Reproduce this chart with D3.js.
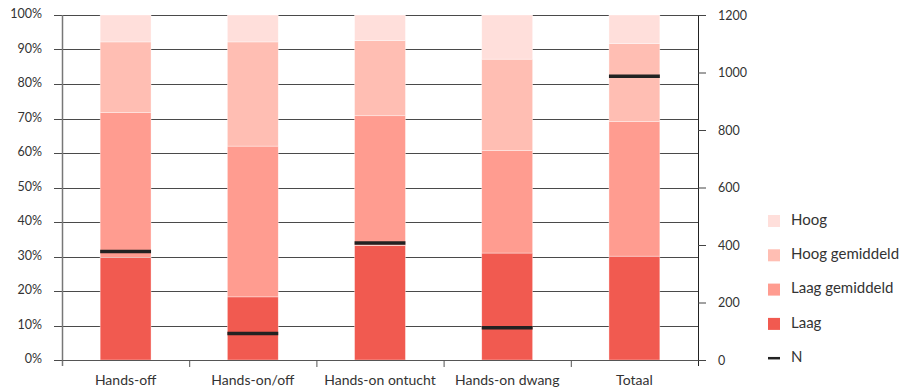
<!DOCTYPE html>
<html>
<head>
<meta charset="utf-8">
<script src="https://cdn.jsdelivr.net/npm/d3@7"></script>
<style>
  body { margin: 0; background: #fff; }
  text { font-family: "Lato", "Noto Sans", sans-serif; fill: #333; }
</style>
</head>
<body>
<div id="chart"></div>
<script>
// Data
const categories = ["Hands-off", "Hands-on/off", "Hands-on ontucht", "Hands-on dwang", "Totaal"];
const seriesNames = ["Laag", "Laag gemiddeld", "Hoog gemiddeld", "Hoog"];
// share per category (%), bottom to top
const laag         = [29.7, 18.3, 33.2, 31.0, 30.1];
const laagGem      = [42.0, 43.7, 37.6, 29.7, 39.0];
const hoogGem      = [20.5, 30.2, 21.8, 26.5, 22.6];
const hoog         = [7.8, 7.8, 7.4, 12.8, 8.3];
const nValues      = [377, 92, 407, 112, 987];
const leftTicks    = [0, 10, 20, 30, 40, 50, 60, 70, 80, 90, 100];
const rightTicks   = [0, 200, 400, 600, 800, 1000, 1200];

const colors = ["#f15a50", "#ff9c90", "#ffbeb3", "#ffdfdb"];

// layout
const W = 904, H = 391;
const plot = { left: 62, right: 698, top: 15, bottom: 360 };

const svg = d3.select("#chart").append("svg")
  .attr("width", W)
  .attr("height", H);

const x = d3.scaleBand()
  .domain(categories)
  .range([plot.left, plot.right])
  .paddingInner(0.6)
  .paddingOuter(0.3);

const y = d3.scaleLinear().domain([0, 100]).range([plot.bottom, plot.top]);
const yN = d3.scaleLinear().domain([0, 1200]).range([plot.bottom, plot.top]);

// gridlines
svg.append("g")
  .selectAll("line")
  .data(leftTicks)
  .enter().append("line")
  .attr("x1", plot.left - 8)
  .attr("x2", plot.right)
  .attr("y1", d => Math.round(y(d)) + 0.5)
  .attr("y2", d => Math.round(y(d)) + 0.5)
  .attr("stroke", "#4a4a4a")
  .attr("stroke-width", 1);

// left labels
svg.append("g")
  .selectAll("text")
  .data(leftTicks)
  .enter().append("text")
  .attr("x", 42)
  .attr("y", d => y(d))
  .attr("text-anchor", "end")
  .attr("dominant-baseline", "middle")
  .attr("font-size", 12.5)
  .text(d => d + "%");

// stacked bars
const rows = categories.map((c, i) => ({ cat: c, vals: [laag[i], laagGem[i], hoogGem[i], hoog[i]] }));
const stackData = rows.map(r => {
  let acc = 0;
  return r.vals.map((v, k) => {
    const seg = { cat: r.cat, k: k, y0: acc, y1: Math.min(100, acc + v) };
    acc += v;
    return seg;
  });
}).flat();

svg.append("g")
  .selectAll("rect")
  .data(stackData)
  .enter().append("rect")
  .attr("x", d => x(d.cat))
  .attr("width", x.bandwidth())
  .attr("y", d => y(d.y1))
  .attr("height", d => y(d.y0) - y(d.y1))
  .attr("fill", d => colors[d.k])
  .attr("stroke", "#fff")
  .attr("stroke-opacity", 0.6)
  .attr("stroke-width", 0.6);

// N markers
svg.append("g")
  .selectAll("line")
  .data(categories)
  .enter().append("line")
  .attr("x1", d => x(d))
  .attr("x2", d => x(d) + x.bandwidth())
  .attr("y1", (d, i) => yN(nValues[i]))
  .attr("y2", (d, i) => yN(nValues[i]))
  .attr("stroke", "#222")
  .attr("stroke-width", 3.5);

// left axis line
svg.append("line")
  .attr("x1", plot.left + 0.5).attr("x2", plot.left + 0.5)
  .attr("y1", plot.top).attr("y2", plot.bottom + 6)
  .attr("stroke", "#777").attr("stroke-width", 1.5);

// bottom axis with ticks at band boundaries
const xAxis = d3.axisBottom(x).tickSize(0).tickPadding(15);
const gx = svg.append("g")
  .attr("transform", `translate(0,${plot.bottom})`)
  .call(xAxis);
gx.select(".domain").attr("stroke", "#555");
gx.selectAll("text")
  .attr("font-size", 14)
  .attr("font-family", "Lato, 'Noto Sans', sans-serif")
  .attr("fill", "#333");

const bounds = d3.range(categories.length + 1).map(i => plot.left + i * (plot.right - plot.left) / categories.length);
svg.append("g")
  .selectAll("line")
  .data(bounds.slice(1, -1))
  .enter().append("line")
  .attr("x1", d => d + 0.5).attr("x2", d => d + 0.5)
  .attr("y1", plot.bottom).attr("y2", plot.bottom + 7)
  .attr("stroke", "#555");

// right axis (N)
const yAxisR = d3.axisRight(yN).tickValues(rightTicks).tickFormat(d3.format("d")).tickSize(8).tickPadding(12);
const gr = svg.append("g")
  .attr("transform", `translate(${plot.right},0)`)
  .call(yAxisR);
gr.select(".domain").attr("stroke", "#222").attr("d", `M0.5,${plot.top}V${plot.bottom + 6}`);
gr.selectAll(".tick line").attr("stroke", "#444");
gr.selectAll("text")
  .attr("font-size", 12.5)
  .attr("font-family", "Lato, 'Noto Sans', sans-serif")
  .attr("fill", "#333");

// legend
const legendItems = seriesNames.map((s, k) => ({ name: s, color: colors[k] })).reverse();
const legend = svg.append("g").attr("transform", "translate(768,221)");
legendItems.forEach((d, i) => {
  const g = legend.append("g").attr("transform", `translate(0,${i * 34.3})`);
  g.append("rect")
    .attr("x", 0).attr("y", -6)
    .attr("width", 12).attr("height", 12)
    .attr("fill", d.color);
  g.append("text")
    .attr("x", 23).attr("y", 0)
    .attr("dominant-baseline", "middle")
    .attr("font-size", 15)
    .text(d.name);
});
const nItem = legend.append("g").attr("transform", `translate(0,${4 * 34.3})`);
nItem.append("line")
  .attr("x1", 0).attr("x2", 12)
  .attr("stroke", "#222").attr("stroke-width", 2.5);
nItem.append("text")
  .attr("x", 23).attr("y", 0)
  .attr("dominant-baseline", "middle")
  .attr("font-size", 15)
  .text("N");
</script>
</body>
</html>
